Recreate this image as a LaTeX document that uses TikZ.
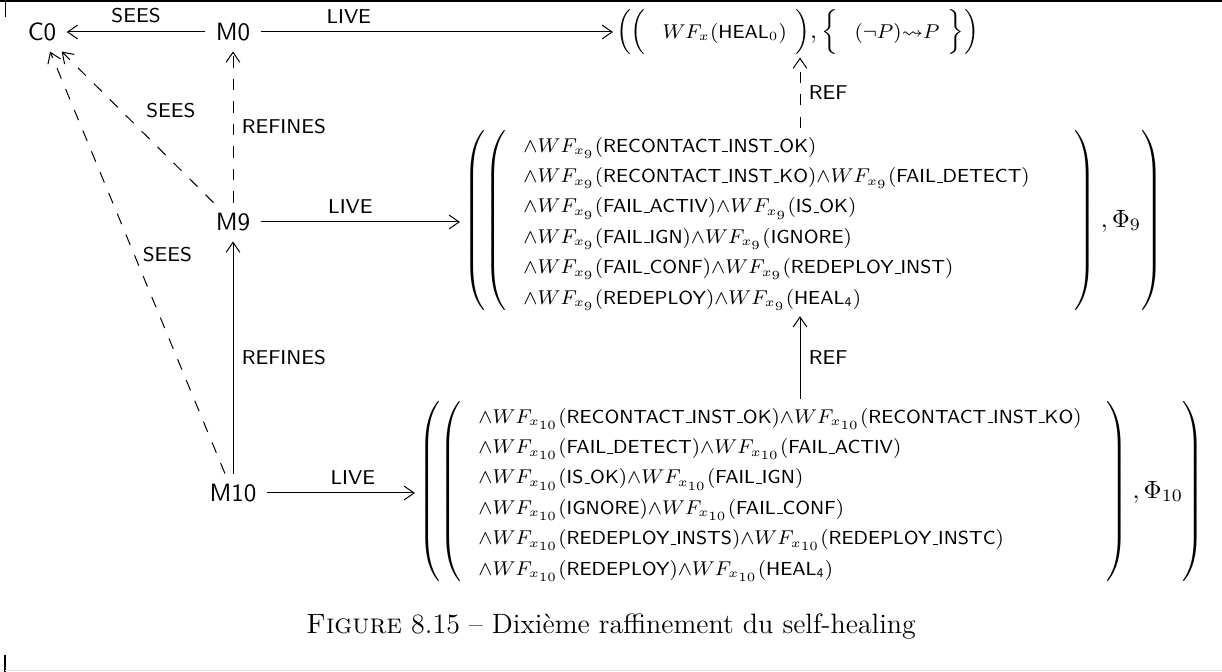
\documentclass[tikz,border=0pt]{standalone}
\usepackage{amsmath,amssymb}
\usetikzlibrary{arrows.meta}
\renewcommand{\arraystretch}{1.35}
\newcommand{\us}{\kern.06em\vbox{\hrule width .3em}}
\newcommand{\wf}[2]{{\wedge}WF_{x_{#1}}(\textsf{#2})}
\newcommand{\rowsize}{\fontsize{7.55}{9}\selectfont}

\begin{document}
\begin{tikzpicture}[x=0.4pt,y=-0.4pt,>={Straight Barb[length=4pt,width=5.5pt]},
  model/.style={font=\sffamily,inner sep=4pt},
  lbl/.style={font=\sffamily\footnotesize},
  seesline/.style={dash pattern=on 4.5pt off 4.5pt},
  formula/.style={anchor=west,inner sep=1pt}]
\useasboundingbox (0,0) rectangle (1222,672);
% page marks
\draw[line width=0.8pt] (0,1)--(1222,1);
\draw (5,0)--(5,17);
\draw[line width=1pt] (5,655)--(5,672);
\draw[black!12] (5,671)--(1222,671);
% models
\node[model] (c0) at (42,32) {C0};
\node[model] (m0) at (233,32) {M0};
\node[model] (m9) at (233,222) {M9};
\node[model] (m10) at (233,493) {M10};
% liveness properties
\node[formula] (f0) at (613,32)
  {$\Bigl(\Bigl(\ \ \mbox{\rowsize$WF_x(\textsf{HEAL}_0)$}\ \Bigr),\Bigl\{\ \ \mbox{\rowsize$(\neg P){\leadsto}P$}\ \Bigr\}\Bigr)$};
\node[formula] (f9) at (460,222)
  {$\left(\left(\ \ \mbox{\rowsize$\begin{array}{@{}l@{}}
    \wf{9}{RECONTACT\us INST\us OK}\\
    \wf{9}{RECONTACT\us INST\us KO}\wf{9}{FAIL\us DETECT}\\
    \wf{9}{FAIL\us ACTIV}\wf{9}{IS\us OK}\\
    \wf{9}{FAIL\us IGN}\wf{9}{IGNORE}\\
    \wf{9}{FAIL\us CONF}\wf{9}{REDEPLOY\us INST}\\
    \wf{9}{REDEPLOY}\wf{9}{HEAL\textsubscript{4}}
  \end{array}$}\hspace{18pt}\right),\Phi_9\right)$};
\node[formula] (f10) at (415,493)
  {$\left(\left(\ \ \mbox{\rowsize$\begin{array}{@{}l@{}}
    \wf{10}{RECONTACT\us INST\us OK}\wf{10}{RECONTACT\us INST\us KO}\\
    \wf{10}{FAIL\us DETECT}\wf{10}{FAIL\us ACTIV}\\
    \wf{10}{IS\us OK}\wf{10}{FAIL\us IGN}\\
    \wf{10}{IGNORE}\wf{10}{FAIL\us CONF}\\
    \wf{10}{REDEPLOY\us INSTS}\wf{10}{REDEPLOY\us INSTC}\\
    \wf{10}{REDEPLOY}\wf{10}{HEAL\textsubscript{4}}
  \end{array}$}\hspace{10pt}\right),\Phi_{10}\right)$};
\coordinate (refx) at (800,0);
% sees
\draw[->] (m0)--node[lbl,above]{SEES} (c0);
\draw[->,seesline] (m9)--node[lbl,above right,pos=.5]{SEES} (c0);
\draw[->,seesline] (m10)--node[lbl,right,pos=.52]{SEES} (c0);
% refines
\draw[->,seesline] (m9)--node[lbl,right]{REFINES} (m0);
\draw[->] (m10)--node[lbl,right]{REFINES} (m9);
% live
\draw[->] (m0)--node[lbl,above,pos=.25]{LIVE} (f0);
\draw[->] (m9)--node[lbl,above,pos=.45]{LIVE} (f9);
\draw[->] (m10)--node[lbl,above,pos=.58]{LIVE} (f10);
% ref
\draw[->,seesline] (f9.north -| refx)--node[lbl,right]{REF} (f0.south -| refx);
\draw[->] (f10.north -| refx)--node[lbl,right]{REF} (f9.south -| refx);
% caption
\node[font=\fontsize{11.2}{13}\selectfont] (cap) at (611,627)
  {\textsc{Figure} 8.15 -- Dixième raffinement du self-healing};
\end{tikzpicture}
\end{document}
